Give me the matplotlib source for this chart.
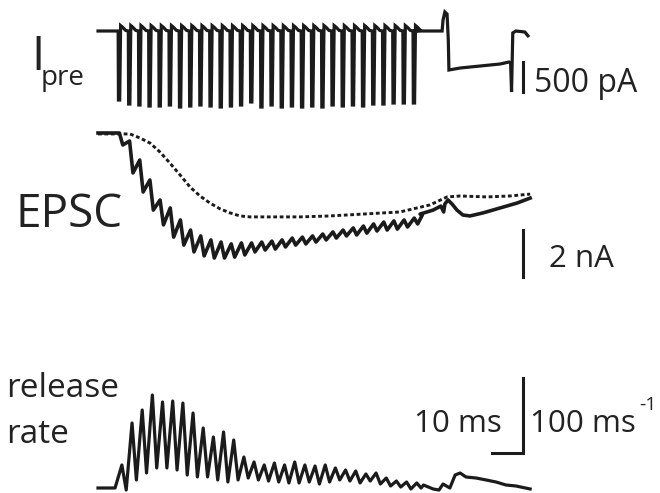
import numpy as np
import matplotlib.pyplot as plt

# presynaptic pulse train (~300 Hz, 30 pulses)
n_pulses = 30
pulse_start = 6.5      # ms
pulse_interval = 3.28  # ms

# I_pre: peak of each current pulse (pA)
ipre_amp = [-1150, -1217, -1233, -1250, -1250, -1233, -1267, -1250, -1233, -1250,
            -1267, -1250, -1233, -1183, -1267, -1233, -1267, -1250, -1267, -1250,
            -1267, -1233, -1250, -1233, -1250, -1217, -1217, -1200, -1200, -1200]
# I_pre after the train (ms, pA)
ipre_tail_t = [101.6, 111.0, 111.3, 111.9, 112.6, 113.0, 113.2, 116.8, 123.2, 129.7,
               132.6, 133.1, 133.4, 133.8, 134.8, 137.7, 138.7]
ipre_tail_v = [0, 0, 183, 317, 283, -150, -650, -617, -583, -550,
               -517, -533, -1017, -33, 0, -17, -80]

# EPSC: level reached after each pulse and the recovered level before the next (nA)
epsc_trough = [-0.51, -1.70, -2.51, -3.28, -3.91, -4.43, -4.77, -5.06, -5.23, -5.32,
               -5.32, -5.28, -5.19, -5.06, -4.98, -4.94, -4.85, -4.77, -4.72, -4.64,
               -4.55, -4.47, -4.38, -4.34, -4.26, -4.17, -4.13, -4.09, -4.00, -3.87]
epsc_peak = [-0.34, -1.15, -2.00, -2.85, -3.19, -3.70, -4.13, -4.38, -4.55, -4.64,
             -4.72, -4.68, -4.68, -4.64, -4.60, -4.55, -4.47, -4.43, -4.38, -4.30,
             -4.21, -4.13, -4.04, -3.96, -3.87, -3.79, -3.74, -3.70, -3.62, -3.49]
epsc_tail_t = [103.9, 108.1, 110.6, 111.5, 111.9, 112.9, 114.2, 115.8, 117.7, 120.0,
               124.2, 129.7, 135.2, 139.4]
epsc_tail_v = [-3.45, -3.28, -3.11, -3.36, -3.02, -2.85, -3.02, -3.28, -3.49, -3.53,
               -3.40, -3.19, -2.98, -2.77]

# dotted EPSC (ms, nA)
slow_t = [0, 10.3, 13.5, 16.8, 20.0, 23.2, 26.5, 29.7, 32.9, 36.1, 39.4, 42.6, 45.8,
          49.0, 65.2, 74.8, 97.4, 107.1, 112.6, 116.8, 125.5, 132.9, 139.4]
slow_v = [-0.04, -0.04, -0.21, -0.43, -0.81, -1.28, -1.79, -2.30, -2.68, -2.98, -3.23,
          -3.40, -3.53, -3.57, -3.57, -3.53, -3.36, -3.06, -2.72, -2.68, -2.72, -2.68, -2.60]

# release rate: peak and trough for each pulse (1/ms)
rate_peak = [30.7, 86.7, 104, 124, 114.7, 116, 113.3, 100, 80, 68,
             74.7, 64, 41.3, 34.7, 30.7, 33.3, 30.7, 34.7, 30.7, 29.3,
             30.7, 26.7, 24, 22.7, 18.7, 20, 13.3, 9.3, 8, 6.7]
rate_trough = [-2.7, 10.7, 20, 26.7, 26.7, 24, 17.3, 14.7, 14.7, 10.7,
               8, 10.7, 13.3, 10.7, 9.3, 8, 6.7, 6.7, 8, 5.3,
               8, 10.7, 9.3, 6.7, 9.3, 5.3, 2.7, 1.3, -1.3, 0]
rate_tail_t = [105.0, 108.1, 110.0, 111.3, 113.5, 115.2, 116.8, 118.7, 122.0, 125.2,
               128.4, 131.6, 134.8, 139.4]
rate_tail_v = [4, -1.3, -2.7, 5.3, 0, 17.3, 20, 14.7, 13.3, 10.7, 8, 4, 2.7, -1.3]

onsets = pulse_start + pulse_interval * np.arange(n_pulses)

# build traces
ipre_t, ipre_v = [0.0], [0.0]
for tk, a in zip(onsets, ipre_amp):
    ipre_t += [tk, tk + 0.1, tk + 0.5, tk + 0.8, tk + 1.5, tk + 2.4]
    ipre_v += [0, a, a, 90, 60, 10]
ipre_t += ipre_tail_t
ipre_v += ipre_tail_v

epsc_t, epsc_v = [0.0], [0.0]
prev = 0.0
for tk, lo, hi in zip(onsets, epsc_trough, epsc_peak):
    epsc_t += [tk + 0.4, tk + 1.5]
    epsc_v += [prev, lo]
    prev = hi
epsc_t += [onsets[-1] + 3.0] + epsc_tail_t
epsc_v += [prev] + epsc_tail_v

rate_t, rate_v = [0.0, onsets[0] - 1.0], [0.0, 0.0]
for tk, hi, lo in zip(onsets, rate_peak, rate_trough):
    rate_t += [tk + 1.2, tk + 2.6]
    rate_v += [hi, lo]
rate_t += rate_tail_t
rate_v += rate_tail_v

# figure: three transparent axes sharing the time axis, each with its own units
W, H = 660, 493
fig = plt.figure(figsize=(6.6, 4.93), dpi=100)
px_per_ms = 3.1
x0 = 98
xlim = (-x0 / px_per_ms, (W - x0) / px_per_ms)


def make_axes(base_px, px_per_unit):
    ax = fig.add_axes([0, 0, 1, 1])
    ax.set_xlim(xlim)
    ax.set_ylim((base_px - H) / px_per_unit, base_px / px_per_unit)
    ax.axis('off')
    ax.patch.set_alpha(0)
    return ax


col = '#1b1b1b'
lw = 2.3
ax1 = make_axes(31, 0.06)      # pA
ax2 = make_axes(133, 23.5)     # nA
ax3 = make_axes(488, 0.75)     # 1/ms

ax1.plot(ipre_t, ipre_v, color=col, lw=lw, solid_joinstyle='miter')
ax2.plot(slow_t, slow_v, color=col, lw=2.1, linestyle=(0, (1.3, 0.9)),
         dash_capstyle='butt')
ax2.plot(epsc_t, epsc_v, color=col, lw=lw + 0.3)
ax3.plot(rate_t, rate_v, color=col, lw=lw)

# scale bars
tb = 137.2
ax1.plot([tb, tb], [-517, -1017], color=col, lw=2.2)
ax2.plot([tb, tb], [-4.13, -6.13], color=col, lw=2.2)
ax3.plot([tb - 10, tb, tb], [46.7, 46.7, 146.7], color=col, lw=2.2,
         solid_joinstyle='miter')

fam = ['Open Sans', 'DejaVu Sans']
tc = '#222222'


def label(x, y, s, size):
    fig.text(x / W, 1 - y / H, s, fontsize=size, family=fam, color=tc,
             ha='left', va='baseline')


label(31, 70, 'I', 34)
label(41, 85, 'pre', 20)
label(15, 227, 'EPSC', 33)
label(6, 397, 'release', 24)
label(6, 443, 'rate', 24)
label(534, 92, '500 pA', 23)
label(549, 267, '2 nA', 22.5)
label(414, 432, '10 ms', 22.5)
label(530, 432, '100 ms', 22.5)
label(639, 410, '-1', 14)

fig.savefig('out.png', dpi=100)
